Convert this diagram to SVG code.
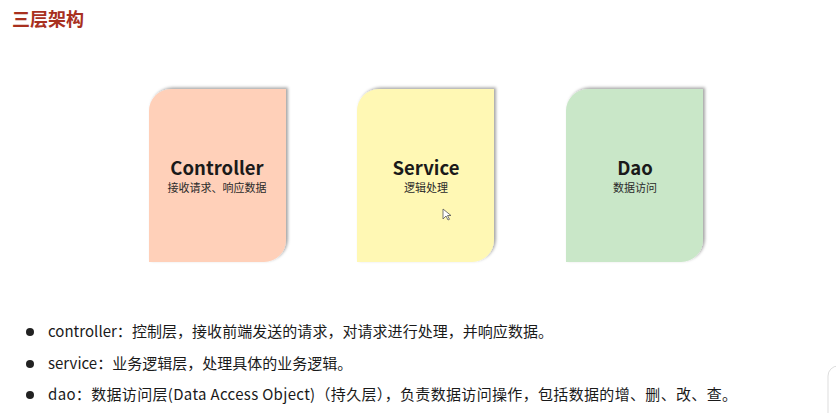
<svg xmlns="http://www.w3.org/2000/svg" width="836" height="413" viewBox="0 0 836 413">
<style>
.t{font-family:"Noto Sans CJK SC","Noto Sans",sans-serif;}
.title{font-size:18px;font-weight:bold;fill:#A8301E;}
.ct{font-size:18.5px;font-weight:bold;fill:#1a1a1a;text-anchor:middle;}
.cs{font-size:11px;fill:#2a2a2a;text-anchor:middle;}
.bl{font-size:15px;fill:#1a1a1a;}
</style>
<defs>
<filter id="sh" x="-10%" y="-10%" width="120%" height="120%">
<feDropShadow dx="2" dy="-1.5" stdDeviation="1.5" flood-color="#000" flood-opacity="0.35"/>
</filter>
<path id="card" d="M0,22 A22,22 0 0 1 22,0 H137 V151 A22,22 0 0 1 115,173 H0 Z"/>
</defs>
<rect width="836" height="413" fill="#fff"/>
<text class="t title" x="12" y="26">三层架构</text>
<g id="controller">
<use href="#card" x="149" y="89" fill="#FFD0B9" filter="url(#sh)"/>
<text class="t ct" x="217" y="175">Controller</text>
<text class="t cs" x="217" y="192">接收请求、响应数据</text>
</g>
<g id="service">
<use href="#card" x="357" y="89" fill="#FFF8B4" filter="url(#sh)"/>
<text class="t ct" x="426" y="175">Service</text>
<text class="t cs" x="426" y="192">逻辑处理</text>
</g>
<g id="dao">
<use href="#card" x="566" y="89" fill="#C9E7C8" filter="url(#sh)"/>
<text class="t ct" x="635" y="175">Dao</text>
<text class="t cs" x="635" y="192">数据访问</text>
</g>
<g id="connectors"></g>
<path d="M443,209 L443,219 L446,216 L448,220 L449.5,219.3 L447.5,215.5 L451,215.5 Z" fill="#fff" stroke="#555" stroke-width="0.8"/>
<g id="bullets">
<circle cx="30" cy="332" r="4" fill="#222"/>
<text class="t bl" x="48" y="337" textLength="505" lengthAdjust="spacing">controller：控制层，接收前端发送的请求，对请求进行处理，并响应数据。</text>
<circle cx="30" cy="364" r="4" fill="#222"/>
<text class="t bl" x="48" y="369">service：业务逻辑层，处理具体的业务逻辑。</text>
<circle cx="30" cy="395" r="4" fill="#222"/>
<text class="t bl" x="48" y="400" textLength="689" lengthAdjust="spacing">dao：数据访问层(Data Access Object)（持久层），负责数据访问操作，包括数据的增、删、改、查。</text>
</g>
<path d="M848,366 H838 A10,10 0 0 0 828,376 V420" fill="none" stroke="#ddd" stroke-width="1"/>
</svg>
